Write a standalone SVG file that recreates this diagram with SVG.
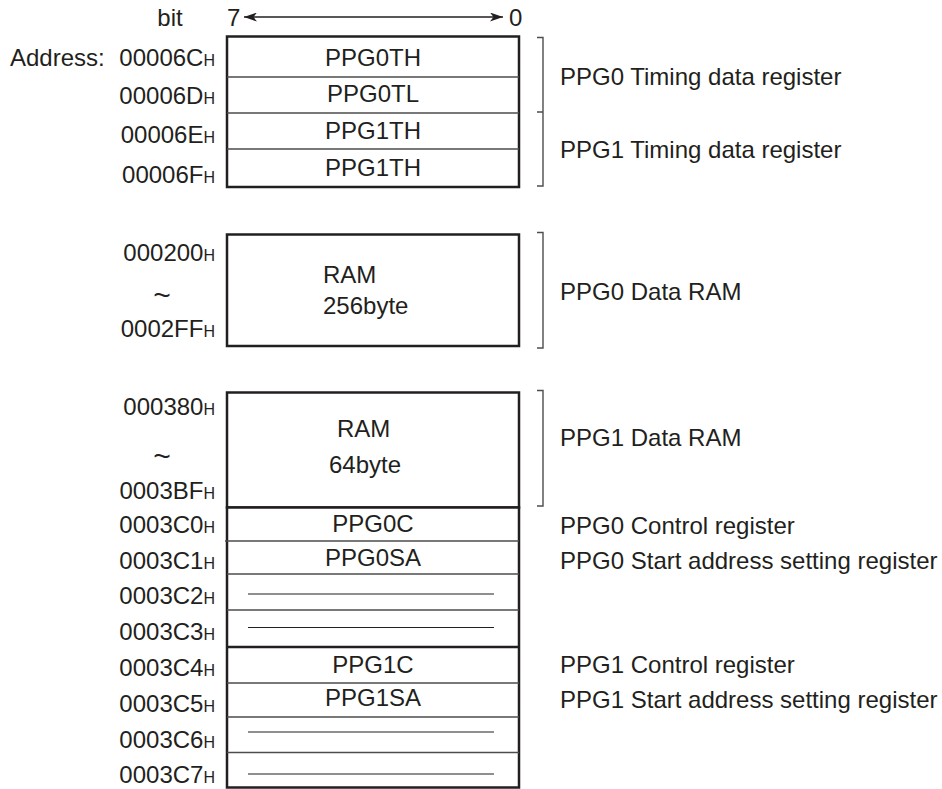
<svg xmlns="http://www.w3.org/2000/svg" width="942" height="789" viewBox="0 0 942 789">
<defs>
<marker id="ah" viewBox="0 0 13 9" refX="13" refY="4.5" markerWidth="13" markerHeight="9" markerUnits="userSpaceOnUse" orient="auto-start-reverse">
<path d="M0,0 L13,4.5 L0,9 L3.5,4.5 Z" fill="#231f20"/>
</marker>
<style>
text{font-family:"Liberation Sans",Arial,sans-serif;font-size:24px;fill:#231f20}
.h{font-size:16px}
.t{font-size:30px}
.mid{text-anchor:middle}
.end{text-anchor:end}
.box{fill:#fff;stroke:#231f20;stroke-width:2.5}
.row{stroke:#4d4d4d;stroke-width:1.5}
.thick{stroke:#231f20;stroke-width:2.5}
.dash{stroke:#231f20;stroke-width:1.2}
.br{fill:none;stroke:#4d4d4d;stroke-width:1.4}
</style>
</defs>
<rect width="942" height="789" fill="#fff"/>

<g id="bit-header">
<text x="170" y="26" class="mid">bit</text>
<text x="227" y="26">7</text>
<text x="509" y="26">0</text>
</g>

<g id="timing-registers">
<rect class="box" x="227" y="36.5" width="292" height="150.5"/>
<line class="row" x1="227" y1="77" x2="519" y2="77"/>
<line class="row" x1="227" y1="113" x2="519" y2="113"/>
<line class="row" x1="227" y1="149" x2="519" y2="149"/>
<text x="373" y="66" class="mid">PPG0TH</text>
<text x="373" y="102" class="mid">PPG0TL</text>
<text x="373" y="139" class="mid">PPG1TH</text>
<text x="373" y="176" class="mid">PPG1TH</text>
<text x="10" y="66">Address:</text>
<text x="215" y="66" class="end">00006C<tspan class="h">H</tspan></text>
<text x="215" y="104" class="end">00006D<tspan class="h">H</tspan></text>
<text x="215" y="143" class="end">00006E<tspan class="h">H</tspan></text>
<text x="215" y="183" class="end">00006F<tspan class="h">H</tspan></text>
</g>

<g id="ppg0-data-ram">
<rect class="box" x="227" y="234.5" width="292" height="111.5"/>
<text x="323" y="283">RAM</text>
<text x="323" y="314">256byte</text>
<text x="215" y="261" class="end">000200<tspan class="h">H</tspan></text>
<text x="162" y="305" class="mid t">~</text>
<text x="215" y="337" class="end">0002FF<tspan class="h">H</tspan></text>
</g>

<g id="ppg1-data-ram">
<rect class="box" x="227" y="392.5" width="292" height="115"/>
<text x="337" y="437">RAM</text>
<text x="329" y="473">64byte</text>
<text x="215" y="415" class="end">000380<tspan class="h">H</tspan></text>
<text x="162" y="466" class="mid t">~</text>
<text x="215" y="499" class="end">0003BF<tspan class="h">H</tspan></text>
</g>

<g id="control-registers">
<rect class="box" x="227" y="507.5" width="292" height="280"/>
<line class="row" x1="225" y1="541" x2="519" y2="541"/>
<line class="row" x1="227" y1="574" x2="519" y2="574"/>
<line class="row" x1="227" y1="610" x2="519" y2="610"/>
<line class="thick" x1="227" y1="647" x2="519" y2="647"/>
<line class="row" x1="227" y1="683" x2="519" y2="683"/>
<line class="row" x1="227" y1="717" x2="519" y2="717"/>
<line class="row" x1="227" y1="752.5" x2="519" y2="752.5"/>
<text x="373" y="532" class="mid">PPG0C</text>
<text x="373" y="566" class="mid">PPG0SA</text>
<line class="dash" x1="248" y1="594" x2="494" y2="594"/>
<line class="dash" x1="248" y1="627.5" x2="494" y2="627.5"/>
<text x="373" y="673" class="mid">PPG1C</text>
<text x="373" y="706" class="mid">PPG1SA</text>
<line class="dash" x1="248" y1="732" x2="494" y2="732"/>
<line class="dash" x1="248" y1="774" x2="494" y2="774"/>
<text x="215" y="533" class="end">0003C0<tspan class="h">H</tspan></text>
<text x="215" y="569" class="end">0003C1<tspan class="h">H</tspan></text>
<text x="215" y="604" class="end">0003C2<tspan class="h">H</tspan></text>
<text x="215" y="640" class="end">0003C3<tspan class="h">H</tspan></text>
<text x="215" y="676" class="end">0003C4<tspan class="h">H</tspan></text>
<text x="215" y="712" class="end">0003C5<tspan class="h">H</tspan></text>
<text x="215" y="748" class="end">0003C6<tspan class="h">H</tspan></text>
<text x="215" y="783" class="end">0003C7<tspan class="h">H</tspan></text>
</g>

<g id="descriptions">
<text x="560" y="85">PPG0 Timing data register</text>
<text x="560" y="158">PPG1 Timing data register</text>
<text x="560" y="300">PPG0 Data RAM</text>
<text x="560" y="446">PPG1 Data RAM</text>
<text x="560" y="534">PPG0 Control register</text>
<text x="560" y="569">PPG0 Start address setting register</text>
<text x="560" y="673">PPG1 Control register</text>
<text x="560" y="708">PPG1 Start address setting register</text>
</g>

<g id="connectors">
<line x1="244" y1="17" x2="503" y2="17" stroke="#231f20" stroke-width="1.5" marker-start="url(#ah)" marker-end="url(#ah)"/>
<path class="br" d="M537,37.5 H543 V186 H537 M537,112 H543"/>
<path class="br" d="M537,232.5 H543 V348 H537"/>
<path class="br" d="M537,390.5 H543 V506 H537"/>
</g>
</svg>
